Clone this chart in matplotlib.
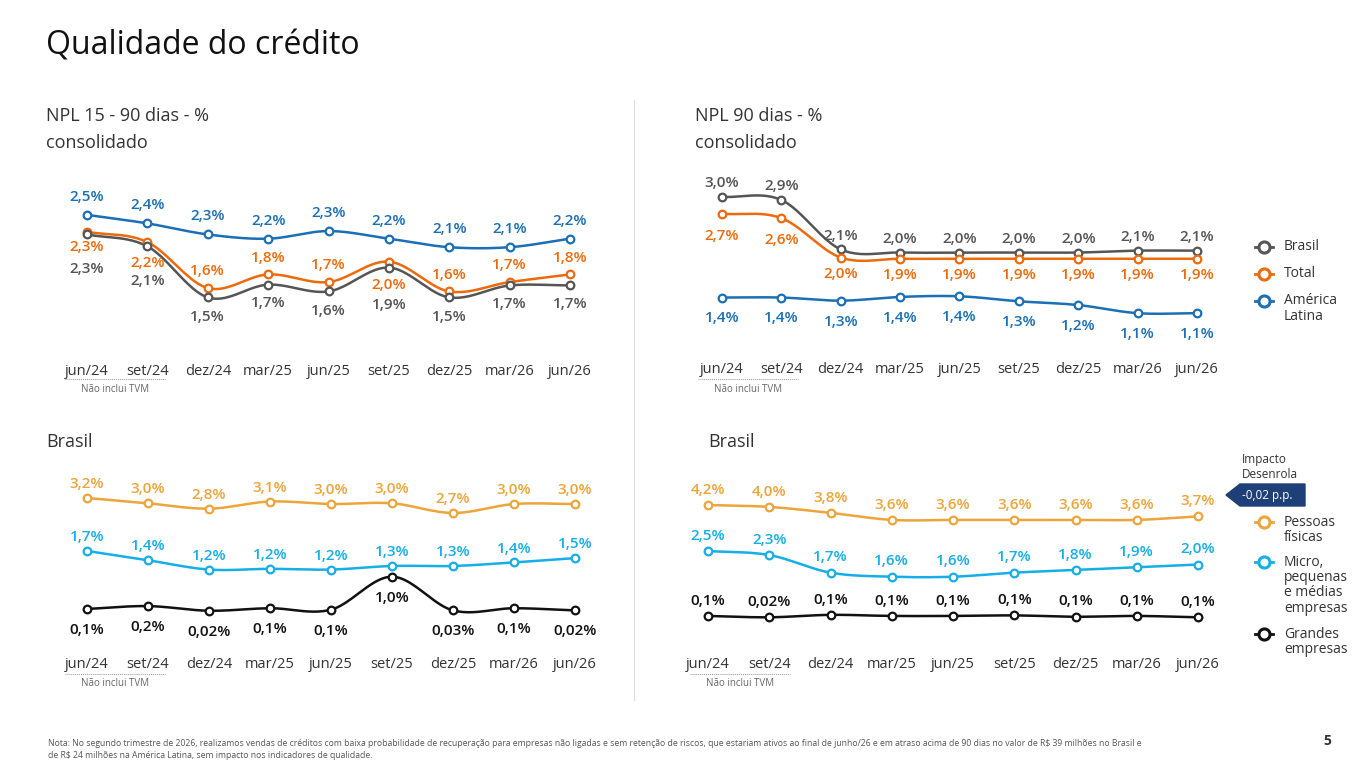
import matplotlib.pyplot as plt
import numpy as np

plt.rcParams["font.family"] = ["Open Sans", "DejaVu Sans"]

W, H = 1365, 768

quarters = ["jun/24", "set/24", "dez/24", "mar/25", "jun/25", "set/25", "dez/25", "mar/26", "jun/26"]

# NPL 15-90 consolidado
npl15_latam = [2.5, 2.4, 2.3, 2.2, 2.3, 2.2, 2.1, 2.1, 2.2]
npl15_total = [2.3, 2.2, 1.6, 1.8, 1.7, 2.0, 1.6, 1.7, 1.8]
npl15_brasil = [2.3, 2.1, 1.5, 1.7, 1.6, 1.9, 1.5, 1.7, 1.7]
# positions used for plotting (curve shape)
npl15_latam_y = [2.50, 2.40, 2.27, 2.22, 2.31, 2.22, 2.12, 2.12, 2.22]
npl15_total_y = [2.30, 2.18, 1.64, 1.80, 1.71, 1.95, 1.60, 1.71, 1.80]
npl15_brasil_y = [2.27, 2.13, 1.53, 1.68, 1.60, 1.88, 1.53, 1.67, 1.67]

# NPL 90 consolidado
npl90_brasil = [3.0, 2.9, 2.1, 2.0, 2.0, 2.0, 2.0, 2.1, 2.1]
npl90_total = [2.7, 2.6, 2.0, 1.9, 1.9, 1.9, 1.9, 1.9, 1.9]
npl90_latam = [1.4, 1.4, 1.3, 1.4, 1.4, 1.3, 1.2, 1.1, 1.1]
npl90_brasil_y = [2.99, 2.94, 2.15, 2.10, 2.10, 2.10, 2.10, 2.13, 2.13]
npl90_total_y = [2.72, 2.65, 2.02, 2.00, 2.00, 2.00, 2.00, 2.00, 2.00]
npl90_latam_y = [1.38, 1.38, 1.33, 1.39, 1.40, 1.32, 1.26, 1.13, 1.13]

# NPL 15-90 Brasil
b15_pf = [3.2, 3.0, 2.8, 3.1, 3.0, 3.0, 2.7, 3.0, 3.0]
b15_pme = [1.7, 1.4, 1.2, 1.2, 1.2, 1.3, 1.3, 1.4, 1.5]
b15_ge = [0.1, 0.2, 0.02, 0.1, 0.1, 1.0, 0.03, 0.1, 0.02]
b15_pf_y = [3.2, 3.05, 2.9, 3.1, 3.03, 3.05, 2.78, 3.03, 3.03]
b15_pme_y = [1.72, 1.46, 1.2, 1.22, 1.2, 1.3, 1.3, 1.4, 1.52]
b15_ge_y = [0.1, 0.18, 0.05, 0.12, 0.08, 1.0, 0.06, 0.12, 0.06]
b15_ge_txt = ["0,1%", "0,2%", "0,02%", "0,1%", "0,1%", "1,0%", "0,03%", "0,1%", "0,02%"]

# NPL 90 Brasil
b90_pf = [4.2, 4.0, 3.8, 3.6, 3.6, 3.6, 3.6, 3.6, 3.7]
b90_pme = [2.5, 2.3, 1.7, 1.6, 1.6, 1.7, 1.8, 1.9, 2.0]
b90_ge = [0.1, 0.02, 0.1, 0.1, 0.1, 0.1, 0.1, 0.1, 0.1]
b90_pf_y = [4.2, 4.13, 3.91, 3.65, 3.65, 3.65, 3.65, 3.65, 3.78]
b90_pme_y = [2.5, 2.35, 1.7, 1.55, 1.55, 1.7, 1.8, 1.9, 2.0]
b90_ge_y = [0.1, 0.05, 0.14, 0.1, 0.1, 0.12, 0.07, 0.1, 0.05]
b90_ge_txt = ["0,1%", "0,02%", "0,1%", "0,1%", "0,1%", "0,1%", "0,1%", "0,1%", "0,1%"]

BLUE = "#1a6fb5"
ORANGE = "#ec6a0c"
GRAY = "#555555"
YELLOW = "#eba53a"
CYAN = "#16aee6"
BLACK = "#111111"
TXT = "#333333"


def fx(x):
    return x / W


def fy(y):
    return 1 - y / H


def smooth(ys, n=24):
    """Catmull-Rom curve through the points."""
    x = np.arange(len(ys), dtype=float)
    y = np.asarray(ys, dtype=float)
    px = np.concatenate([[2 * x[0] - x[1]], x, [2 * x[-1] - x[-2]]])
    py = np.concatenate([[2 * y[0] - y[1]], y, [2 * y[-1] - y[-2]]])
    outx, outy = [], []
    for i in range(1, len(px) - 2):
        t = np.linspace(0, 1, n, endpoint=False)
        for arr, out in ((px, outx), (py, outy)):
            p0, p1, p2, p3 = arr[i - 1], arr[i], arr[i + 1], arr[i + 2]
            out.extend(0.5 * ((2 * p1) + (-p0 + p2) * t
                              + (2 * p0 - 5 * p1 + 4 * p2 - p3) * t ** 2
                              + (-p0 + 3 * p1 - 3 * p2 + p3) * t ** 3))
    outx.append(x[-1])
    outy.append(y[-1])
    return np.array(outx), np.array(outy)


def fmt(v):
    return f"{v:.1f}%".replace(".", ",")


def make_axes(fig, x0, x1, top, bottom, ylim):
    step = (x1 - x0) / 8
    L, R = x0 - step / 2, x1 + step / 2
    ax = fig.add_axes([fx(L), fy(bottom), (R - L) / W, (bottom - top) / H])
    ax.set_xlim(-0.5, 8.5)
    ax.set_ylim(*ylim)
    for s in ax.spines.values():
        s.set_visible(False)
    ax.set_yticks([])
    ax.set_xticks(range(9))
    ax.set_xticklabels(quarters, fontsize=10.5, color=TXT)
    ax.tick_params(axis="x", length=0, pad=3)
    ax.patch.set_alpha(0)
    return ax


def series(ax, ys, color, texts, offs, lw=1.8):
    sx, sy = smooth(ys)
    ax.plot(sx, sy, color=color, lw=lw, zorder=2)
    ax.plot(range(9), ys, "o", ms=5.5, mfc="white", mec=color, mew=1.6, zorder=3)
    for i, (t, o) in enumerate(zip(texts, offs)):
        ax.annotate(t, (i, ys[i]), xytext=(0, o), textcoords="offset points",
                    ha="center", va="center", color=color, fontsize=11,
                    fontweight="semibold")


fig = plt.figure(figsize=(W / 100, H / 100), dpi=100)

fig.text(fx(46), fy(46), "Qualidade do crédito", fontsize=23, color=BLACK, va="center")
fig.text(fx(46), fy(116), "NPL 15 - 90 dias - %", fontsize=13, color=TXT, va="center")
fig.text(fx(46), fy(143), "consolidado", fontsize=13, color=TXT, va="center")
fig.text(fx(695), fy(116), "NPL 90 dias - %", fontsize=13, color=TXT, va="center")
fig.text(fx(695), fy(143), "consolidado", fontsize=13, color=TXT, va="center")
fig.text(fx(46), fy(442), "Brasil", fontsize=13, color=TXT, va="center")
fig.text(fx(708), fy(442), "Brasil", fontsize=13, color=TXT, va="center")

fig.add_artist(plt.Line2D([fx(634)] * 2, [fy(100), fy(700)], color="#dddddd", lw=0.8))

# top left
ax = make_axes(fig, 87, 570, 180, 360, (0.794, 2.91))
series(ax, npl15_latam_y, BLUE, [fmt(v) for v in npl15_latam], [13] * 9)
series(ax, npl15_total_y, ORANGE, [fmt(v) for v in npl15_total],
       [-11, -15, 12, 12, 12, -17, 12, 12, 12])
series(ax, npl15_brasil_y, GRAY, [fmt(v) for v in npl15_brasil],
       [-25, -25, -14, -13, -14, -27, -14, -13, -13])

# top right
ax = make_axes(fig, 722, 1197, 170, 358, (0.413, 3.42))
series(ax, npl90_brasil_y, GRAY, [fmt(v) for v in npl90_brasil], [10] * 9)
series(ax, npl90_total_y, ORANGE, [fmt(v) for v in npl90_total], [-16, -16] + [-12] * 7)
series(ax, npl90_latam_y, BLUE, [fmt(v) for v in npl90_latam], [-15] * 9)

# bottom left
ax = make_axes(fig, 87, 575, 470, 653, (-1.13, 3.98))
series(ax, b15_pf_y, YELLOW, [fmt(v) for v in b15_pf], [10] * 9)
series(ax, b15_pme_y, CYAN, [fmt(v) for v in b15_pme], [10] * 9)
series(ax, b15_ge_y, BLACK, b15_ge_txt, [-15] * 9)

# bottom right
ax = make_axes(fig, 708, 1198, 475, 653, (-1.27, 5.31))
series(ax, b90_pf_y, YELLOW, [fmt(v) for v in b90_pf], [11] * 9)
series(ax, b90_pme_y, CYAN, [fmt(v) for v in b90_pme], [11] * 9)
series(ax, b90_ge_y, BLACK, b90_ge_txt, [11] * 9)

# "Não inclui TVM" notes
for x0, x1, y in [(65, 165, 379), (698, 798, 379), (65, 165, 674), (690, 790, 674)]:
    fig.add_artist(plt.Line2D([fx(x0), fx(x1)], [fy(y)] * 2, color="#999999",
                              lw=0.7, ls=(0, (1, 1))))
    fig.text(fx((x0 + x1) / 2), fy(y + 10), "Não inclui TVM", fontsize=7,
             color="#666666", ha="center", va="center")


def legend_item(x, y, color, lines):
    fig.add_artist(plt.Line2D([fx(x - 9), fx(x + 9)], [fy(y)] * 2, color=color, lw=2))
    fig.add_artist(plt.Line2D([fx(x)], [fy(y)], marker="o", ms=8, mfc="white",
                              mec=color, mew=2.2))
    for k, t in enumerate(lines):
        fig.text(fx(x + 20), fy(y + k * 15.5), t, fontsize=10, color=TXT, va="center")


legend_item(1264, 247, GRAY, ["Brasil"])
legend_item(1264, 274, ORANGE, ["Total"])
legend_item(1264, 301, BLUE, ["América", "Latina"])
legend_item(1264, 522, YELLOW, ["Pessoas", "físicas"])
legend_item(1264, 562, CYAN, ["Micro,", "pequenas", "e médias", "empresas"])
legend_item(1264, 634, BLACK, ["Grandes", "empresas"])

fig.text(fx(1242), fy(460), "Impacto", fontsize=8.5, color=TXT, va="center")
fig.text(fx(1242), fy(475), "Desenrola", fontsize=8.5, color=TXT, va="center")
arrow = plt.Polygon([(fx(1226), fy(495)), (fx(1240), fy(484)), (fx(1305), fy(484)),
                     (fx(1305), fy(506)), (fx(1240), fy(506))],
                    closed=True, color="#1f3f78", transform=fig.transFigure)
fig.add_artist(arrow)
fig.text(fx(1267), fy(495), "-0,02 p.p.", fontsize=8.5, color="white", ha="center", va="center")

fig.text(fx(48), fy(743), "Nota: No segundo trimestre de 2026, realizamos vendas de créditos com baixa probabilidade de recuperação para empresas não ligadas e sem retenção de riscos, que estariam ativos ao final de junho/26 e em atraso acima de 90 dias no valor de R$ 39 milhões no Brasil e",
         fontsize=6.2, color="#555555", va="center")
fig.text(fx(48), fy(755), "de R$ 24 milhões na América Latina, sem impacto nos indicadores de qualidade.",
         fontsize=6.2, color="#555555", va="center")
fig.text(fx(1327), fy(741), "5", fontsize=10, fontweight="bold", color=TXT, va="center", ha="center")

fig.savefig("out.png", dpi=100)
